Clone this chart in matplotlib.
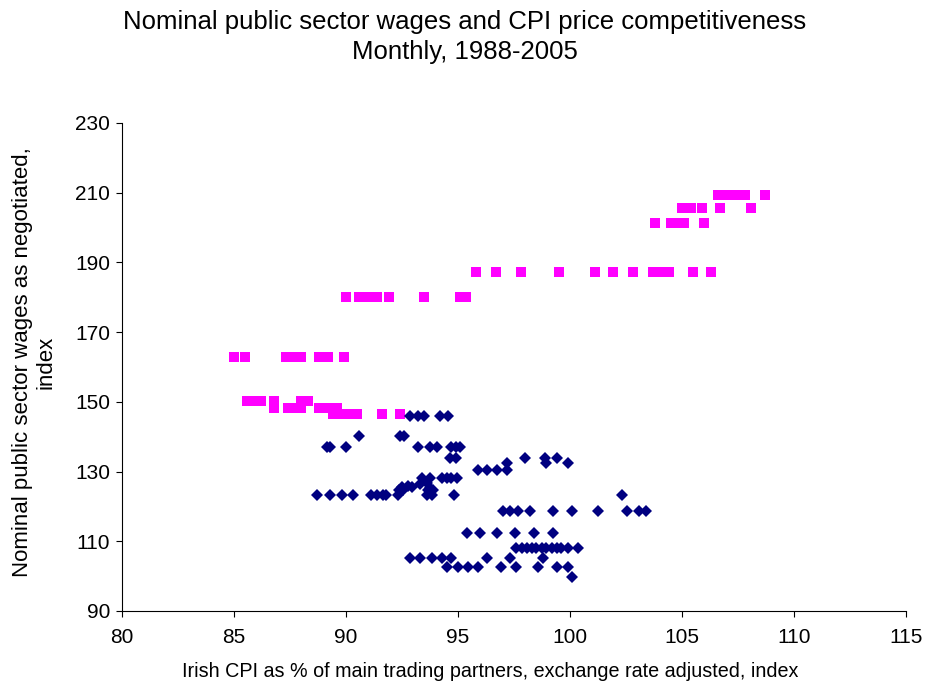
import matplotlib
matplotlib.use("Agg")
import matplotlib.pyplot as plt

plt.rcParams['font.family'] = ['Liberation Sans', 'DejaVu Sans']

# Series A (magenta squares): CPI index (x) vs negotiated wage index (y)
sq_x = [106.6, 107.0, 107.3, 107.6, 107.8, 108.7,
        105.0, 105.4, 105.9, 106.7, 108.1,
        103.8, 104.5, 104.8, 105.1, 106.0,
        95.8, 96.7, 97.8, 99.5, 101.1, 101.9, 102.8, 103.7, 104.0, 104.4, 105.5, 106.3,
        90.0, 90.6, 90.9, 91.2, 91.4, 91.9, 93.5, 95.1, 95.35,
        85.0, 85.5, 87.3, 87.7, 88.0, 88.8, 89.2, 89.9,
        85.6, 85.9, 86.2, 86.8, 88.0, 88.3,
        86.8, 87.4, 87.7, 88.0, 88.8, 89.2, 89.6,
        89.4, 89.8, 90.2, 90.5, 91.6, 92.4]
sq_y = [209.3, 209.3, 209.3, 209.3, 209.3, 209.3,
        205.6, 205.6, 205.6, 205.6, 205.6,
        201.3, 201.3, 201.3, 201.3, 201.3,
        187.2, 187.2, 187.2, 187.2, 187.2, 187.2, 187.2, 187.2, 187.2, 187.2, 187.2, 187.2,
        180.0, 180.0, 180.0, 180.0, 180.0, 180.0, 180.0, 180.0, 180.0,
        163.0, 163.0, 163.0, 163.0, 163.0, 163.0, 163.0, 163.0,
        150.3, 150.3, 150.3, 150.3, 150.3, 150.3,
        148.3, 148.3, 148.3, 148.3, 148.3, 148.3, 148.3,
        146.5, 146.5, 146.5, 146.5, 146.5, 146.5]

# Series B (navy diamonds)
dm_x = [92.85, 93.2, 93.5, 94.2, 94.55,
        90.6, 92.4, 92.6,
        89.15, 89.3, 90.0, 93.2, 93.75, 94.05, 94.7, 94.9, 95.1,
        94.65, 94.9,
        98.0, 98.9, 99.4,
        97.2, 98.95, 99.9,
        95.9, 96.3, 96.75, 97.2,
        93.4, 93.75, 94.3, 94.5, 94.7, 94.95,
        92.5, 92.75, 92.95, 93.3, 93.6, 93.75, 92.35, 92.55, 93.65, 93.9,
        88.7, 89.3, 89.8, 90.3, 91.1, 91.4, 91.65, 91.8, 92.3, 93.6, 93.85, 94.8, 102.3,
        97.0, 97.3, 97.7, 98.2, 99.25, 100.1, 101.25, 102.55, 103.1, 103.4,
        95.4, 96.0, 96.75, 97.55, 98.4, 99.25,
        97.6, 97.85, 98.1, 98.3, 98.5, 98.75, 98.95, 99.2, 99.4, 99.6, 99.9, 100.35,
        92.85, 93.3, 93.85, 94.3, 94.7, 96.3, 97.3, 98.8,
        94.5, 95.0, 95.45, 95.9, 96.9, 97.6, 98.55, 99.4, 99.9,
        100.1]
dm_y = [146.0, 146.0, 146.0, 146.0, 146.0,
        140.2, 140.2, 140.2,
        137.0, 137.0, 137.0, 137.0, 137.0, 137.0, 137.0, 137.0, 137.0,
        133.8, 133.8,
        133.8, 133.8, 133.8,
        132.4, 132.4, 132.4,
        130.4, 130.4, 130.4, 130.4,
        128.2, 128.2, 128.2, 128.2, 128.2, 128.2,
        125.6, 126.0, 125.6, 126.3, 126.8, 125.2, 124.7, 124.7, 124.7, 124.7,
        123.4, 123.4, 123.4, 123.4, 123.4, 123.4, 123.4, 123.4, 123.4, 123.4, 123.4, 123.4, 123.4,
        118.7, 118.7, 118.7, 118.7, 118.7, 118.7, 118.7, 118.7, 118.7, 118.7,
        112.3, 112.3, 112.3, 112.3, 112.3, 112.3,
        108.0, 108.0, 108.0, 108.0, 108.0, 108.0, 108.0, 108.0, 108.0, 108.0, 108.0, 108.0,
        105.1, 105.1, 105.1, 105.1, 105.1, 105.1, 105.1, 105.1,
        102.6, 102.6, 102.6, 102.6, 102.6, 102.6, 102.6, 102.6, 102.6,
        99.8]

x_ticks = [80, 85, 90, 95, 100, 105, 110, 115]
y_ticks = [90, 110, 130, 150, 170, 190, 210, 230]

title = "Nominal public sector wages and CPI price competitiveness\nMonthly, 1988-2005"
x_label = "Irish CPI as % of main trading partners, exchange rate adjusted, index"
y_label = "Nominal public sector wages as negotiated,\nindex"

fig = plt.figure(figsize=(9.27, 6.91), dpi=100)
ax = fig.add_axes([122/927, 1 - 611/691, (906-122)/927, (611-123)/691])

ax.plot(sq_x, sq_y, linestyle='none', marker='s', markersize=7,
        color='#FF00FF', markeredgewidth=0, clip_on=False)
ax.plot(dm_x, dm_y, linestyle='none', marker='D', markersize=6.2,
        color='#000080', markeredgewidth=0, clip_on=False)

ax.set_xlim(80, 115)
ax.set_ylim(90, 230)
ax.set_xticks(x_ticks)
ax.set_yticks(y_ticks)
ax.tick_params(axis='both', direction='out', length=4.5, width=0.8,
               labelsize=15, color='black', labelcolor='black')
ax.tick_params(axis='x', pad=8)
ax.tick_params(axis='y', pad=4)
for s in ['top', 'right']:
    ax.spines[s].set_visible(False)
for s in ['left', 'bottom']:
    ax.spines[s].set_linewidth(0.8)
    ax.spines[s].set_color('black')

ax.set_xlabel(x_label, fontsize=14.2, labelpad=14)
ax.xaxis.set_label_coords(0.469, -0.105)
ax.set_ylabel(y_label, fontsize=16, linespacing=1.2)
ax.yaxis.set_label_coords(-0.083, 0.51)

fig.text(0.5015, 0.985, title, ha='center', va='top', fontsize=18.5, linespacing=1.3)

fig.savefig("out.png", dpi=100, facecolor='white')
